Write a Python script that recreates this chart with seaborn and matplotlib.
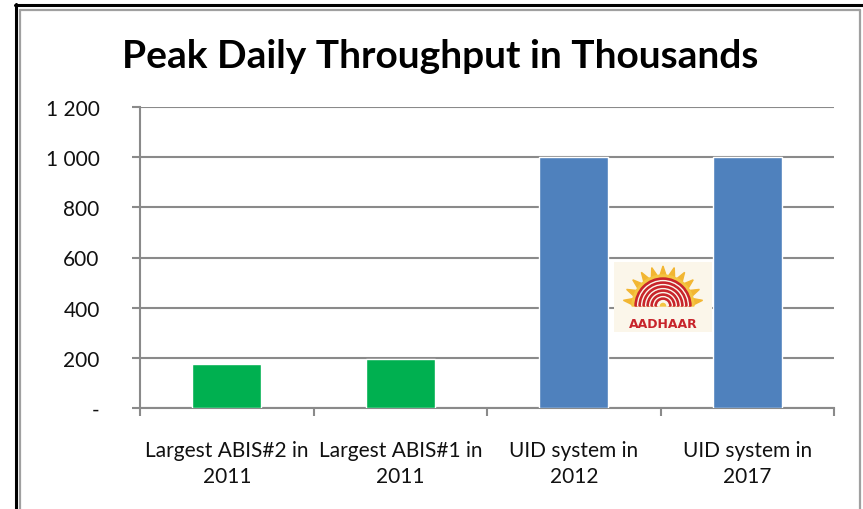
import numpy as np
import pandas as pd
import seaborn as sns
import matplotlib.pyplot as plt
from matplotlib.lines import Line2D
from matplotlib.patches import Rectangle, Wedge, Polygon

# --- data -------------------------------------------------------------
categories = ["Largest ABIS#2 in\n2011", "Largest ABIS#1 in\n2011",
              "UID system in\n2012", "UID system in\n2017"]
throughput = [175, 196, 1000, 1000]
bar_colors = ["#00B050", "#00B050", "#4F81BD", "#4F81BD"]
y_ticks = [0, 200, 400, 600, 800, 1000, 1200]
y_tick_labels = ["-", "200", "400", "600", "800", "1 000", "1 200"]
title = "Peak Daily Throughput in Thousands"

df = pd.DataFrame({"category": categories, "value": throughput})

sns.set_theme(style="white")
plt.rcParams["font.family"] = ["Liberation Sans Narrow", "Lato", "DejaVu Sans"]

W, H = 863, 510
fig = plt.figure(figsize=(W / 100, H / 100), dpi=100)
ax = fig.add_axes([140 / W, 1 - 409 / H, (834 - 140) / W, (409 - 108) / H])

sns.barplot(data=df, x="category", y="value", hue="category",
            palette=bar_colors, width=0.4, legend=False, ax=ax,
            saturation=1, zorder=3)

grid_col = "#8a8a8a"
ax.set_ylim(0, 1200)
ax.set_xlim(-0.5, 3.5)
ax.set_yticks(y_ticks)
ax.set_yticklabels(y_tick_labels)
ax.yaxis.grid(True, color=grid_col, linewidth=1.5, zorder=0)
ax.set_axisbelow(True)
ax.set_xlabel("")
ax.set_ylabel("")

for side in ["top", "right"]:
    ax.spines[side].set_visible(False)
for side in ["left", "bottom"]:
    ax.spines[side].set_color(grid_col)
    ax.spines[side].set_linewidth(1.5)

# category boundary ticks on x, labels at centres without ticks
ax.set_xticks(np.arange(-0.5, 4.0, 1.0), minor=True)
ax.tick_params(axis="x", which="minor", length=6, width=1.5, color=grid_col,
               direction="out", bottom=True)
ax.tick_params(axis="x", which="major", length=0, pad=23, labelsize=15,
               labelcolor="#111111")
ax.tick_params(axis="y", which="major", length=6, width=1.5, color=grid_col,
               direction="out", left=True, pad=23, labelsize=15,
               labelcolor="#111111")
for lab in ax.get_xticklabels():
    lab.set_linespacing(1.35)

fig.text(440 / W, 1 - 56 / H, title, ha="center", va="center",
         fontsize=28, fontweight="bold", color="#000000")

# Aadhaar emblem placed beside the 2012 bar
lg = fig.add_axes([614 / W, 1 - 333 / H, 98 / W, 70 / H])
lg.set_xlim(0, 98)
lg.set_ylim(0, 70)
lg.axis("off")
lg.add_patch(Rectangle((0, 0), 98, 70, color="#fbf6ea", zorder=0))
cx, cy = 49, 26
# sun rays
n_rays = 11
for i in range(n_rays):
    a = np.pi * (i + 0.5) / n_rays
    da = np.pi / n_rays * 0.45
    tip = (cx + 40 * np.cos(a), cy + 40 * np.sin(a))
    b1 = (cx + 29 * np.cos(a - da), cy + 29 * np.sin(a - da))
    b2 = (cx + 29 * np.cos(a + da), cy + 29 * np.sin(a + da))
    lg.add_patch(Polygon([b1, tip, b2], color="#f2b632", zorder=1))
lg.add_patch(Wedge((cx, cy), 31, 0, 180, color="#f4c542", zorder=1))
# fingerprint arcs
radii = [28, 24, 20, 16, 12, 8]
for k, r in enumerate(radii):
    lg.add_patch(Wedge((cx, cy), r, 0, 180, width=2.6,
                       color="#c8242b", zorder=2))
    lg.add_patch(Wedge((cx, cy), r - 2.6, 0, 180, width=1.4,
                       color="#fbf6ea", zorder=2))
lg.add_patch(Rectangle((0, 0), 98, 18, color="#fbf6ea", zorder=3))
lg.text(49, 9, "AADHAAR", ha="center", va="center", fontsize=9,
        fontweight="bold", color="#c8242b", zorder=4,
        family=["DejaVu Sans"])

# chart frame lines
fig.add_artist(Line2D([16 / W, 16 / W], [0, 1 - 5 / H], color="black",
                      linewidth=2.2, transform=fig.transFigure))
fig.add_artist(Line2D([15 / W, 1], [1 - 6 / H, 1 - 6 / H], color="black",
                      linewidth=2.2, transform=fig.transFigure))
fig.add_artist(Line2D([20 / W, 20 / W], [0, 1 - 11 / H], color="#a0a0a0",
                      linewidth=1.6, transform=fig.transFigure))
fig.add_artist(Line2D([20 / W, 860 / W], [1 - 11 / H, 1 - 11 / H],
                      color="#a0a0a0", linewidth=1.6,
                      transform=fig.transFigure))
fig.add_artist(Line2D([860 / W, 860 / W], [0, 1 - 11 / H], color="#a0a0a0",
                      linewidth=1.6, transform=fig.transFigure))

fig.savefig("out.png", dpi=100, facecolor="white")
